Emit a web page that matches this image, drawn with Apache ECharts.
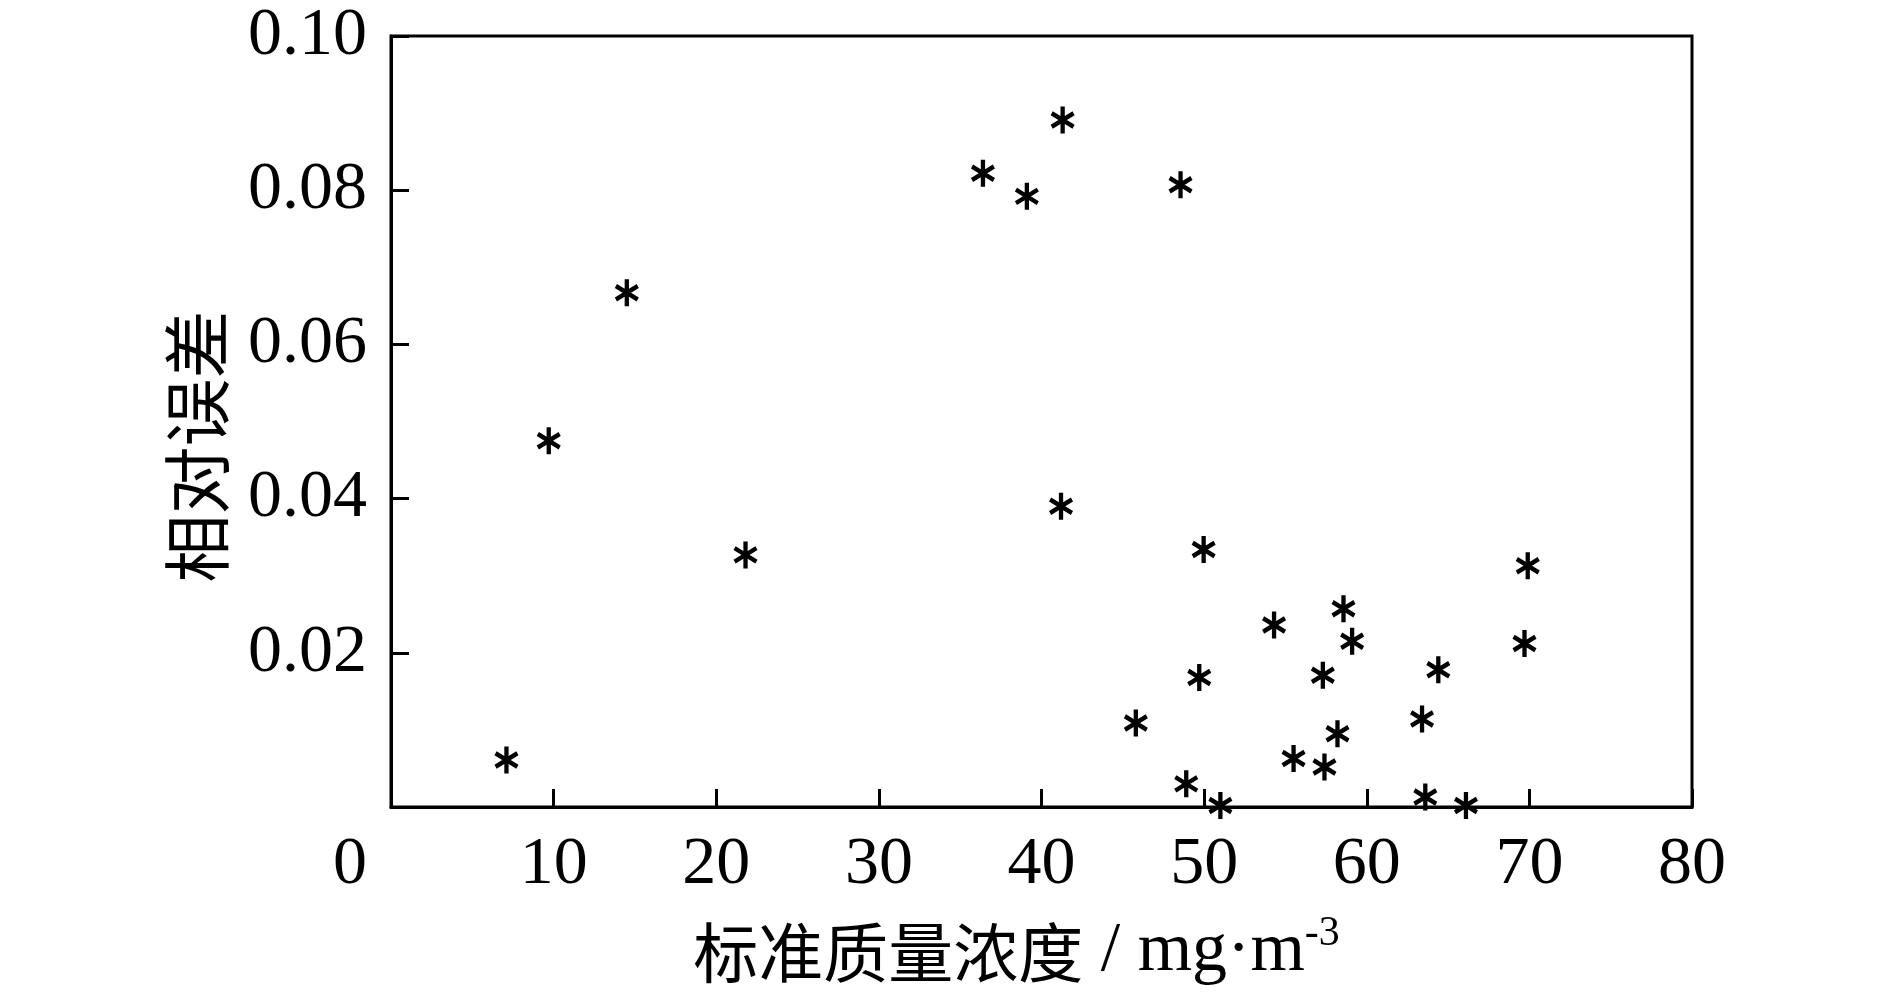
<html>
<head>
    <meta charset="utf-8">
    <title>相对误差</title>
    <script src="https://cdn.jsdelivr.net/npm/echarts@6/dist/echarts.min.js"></script>
    <style>
        html, body { margin: 0; padding: 0; background: #fff; }
        #chart { width: 1890px; height: 992px; }
    </style>
</head>
<body>
<div id="chart"></div>
<script type="text/javascript">
    // standard mass concentration (mg/m3) and relative error
    var concentration = [7.1, 9.7, 14.5, 21.8, 36.4, 39.1, 41.3, 41.2, 45.8, 48.55,
        48.9, 49.7, 49.97, 51.0, 54.3, 55.5, 57.3, 57.4, 58.2, 58.57,
        59.1, 63.4, 63.6, 64.4, 66.1, 69.7, 69.9];
    var relError = [0.0061, 0.0475, 0.0667, 0.0327, 0.0822, 0.0792, 0.0891, 0.0390, 0.0109, 0.0807,
        0.0030, 0.0168, 0.0334, 0.0002, 0.0236, 0.0063, 0.0171, 0.0052, 0.0095, 0.0257,
        0.0215, 0.0114, 0.0013, 0.0178, 0.0002, 0.0212, 0.0313];
    var xTicks = [0, 10, 20, 30, 40, 50, 60, 70, 80];
    var yTicks = [0, 0.02, 0.04, 0.06, 0.08, 0.10];

    var serif = '"Liberation Serif", "DejaVu Serif", serif';
    var cjk = '"Noto Sans CJK SC", sans-serif';

    // six-armed asterisk marker built from three bars
    function asteriskPath() {
        var L = 10, w = 1.7, parts = [];
        [0, 60, 120].forEach(function (deg) {
            var a = deg * Math.PI / 180;
            var dx = Math.sin(a), dy = -Math.cos(a);
            var nx = Math.cos(a), ny = Math.sin(a);
            var pts = [
                [L * dx + w * nx, L * dy + w * ny],
                [L * dx - w * nx, L * dy - w * ny],
                [-L * dx - w * nx, -L * dy - w * ny],
                [-L * dx + w * nx, -L * dy + w * ny]
            ];
            parts.push('M' + pts.map(function (p) {
                return (p[0] + 12).toFixed(3) + ' ' + (p[1] + 12).toFixed(3);
            }).join(' L') + ' Z');
        });
        return 'path://' + parts.join(' ');
    }

    var points = concentration.map(function (x, i) { return [x, relError[i]]; });

    var myChart = echarts.init(document.getElementById('chart'));
    var option = {
        backgroundColor: '#fff',
        animation: false,
        grid: {
            left: 391,
            right: 198,
            top: 36,
            bottom: 176,
            show: true,
            borderColor: '#000',
            borderWidth: 3
        },
        xAxis: {
            type: 'value',
            min: xTicks[0],
            max: xTicks[xTicks.length - 1],
            interval: 10,
            name: '{cn|标准质量浓度}{en| / mg·m}{sup|-3}',
            nameLocation: 'middle',
            nameGap: 106,
            nameTextStyle: {
                padding: [0, 50, 0, 0],
                rich: {
                    cn: { fontFamily: cjk, fontSize: 65, color: '#000' },
                    en: { fontFamily: serif, fontSize: 70, color: '#000' },
                    sup: { fontFamily: serif, fontSize: 42, color: '#000', padding: [0, 0, 36, 0] }
                }
            },
            axisLine: { show: true, lineStyle: { color: '#000', width: 3 } },
            axisTick: { show: true, inside: true, length: 18, lineStyle: { color: '#000', width: 3 } },
            splitLine: { show: false },
            axisLabel: {
                margin: 24,
                color: '#000',
                fontFamily: serif,
                fontSize: 68,
                formatter: function (v) {
                    return v === 0 ? '{z|0}' : String(v);
                },
                rich: {
                    z: { fontFamily: serif, fontSize: 68, color: '#000', padding: [0, 82, 0, 0] }
                }
            }
        },
        yAxis: {
            type: 'value',
            min: yTicks[0],
            max: yTicks[yTicks.length - 1],
            interval: 0.02,
            name: '相对误差',
            nameLocation: 'middle',
            nameGap: 160,
            nameTextStyle: {
                fontFamily: cjk,
                fontSize: 68,
                color: '#000',
                padding: [0, 50, 0, 0]
            },
            axisLine: { show: true, lineStyle: { color: '#000', width: 3 } },
            axisTick: { show: true, inside: true, length: 18, lineStyle: { color: '#000', width: 3 } },
            splitLine: { show: false },
            axisLabel: {
                margin: 24,
                color: '#000',
                fontFamily: serif,
                fontSize: 68,
                formatter: function (v) {
                    return v === 0 ? '' : v.toFixed(2);
                }
            }
        },
        series: [
            {
                name: '相对误差',
                type: 'scatter',
                symbol: asteriskPath(),
                symbolSize: [24, 27],
                itemStyle: { color: '#000', opacity: 1 },
                data: points
            }
        ]
    };
    myChart.setOption(option);
</script>
</body>
</html>
